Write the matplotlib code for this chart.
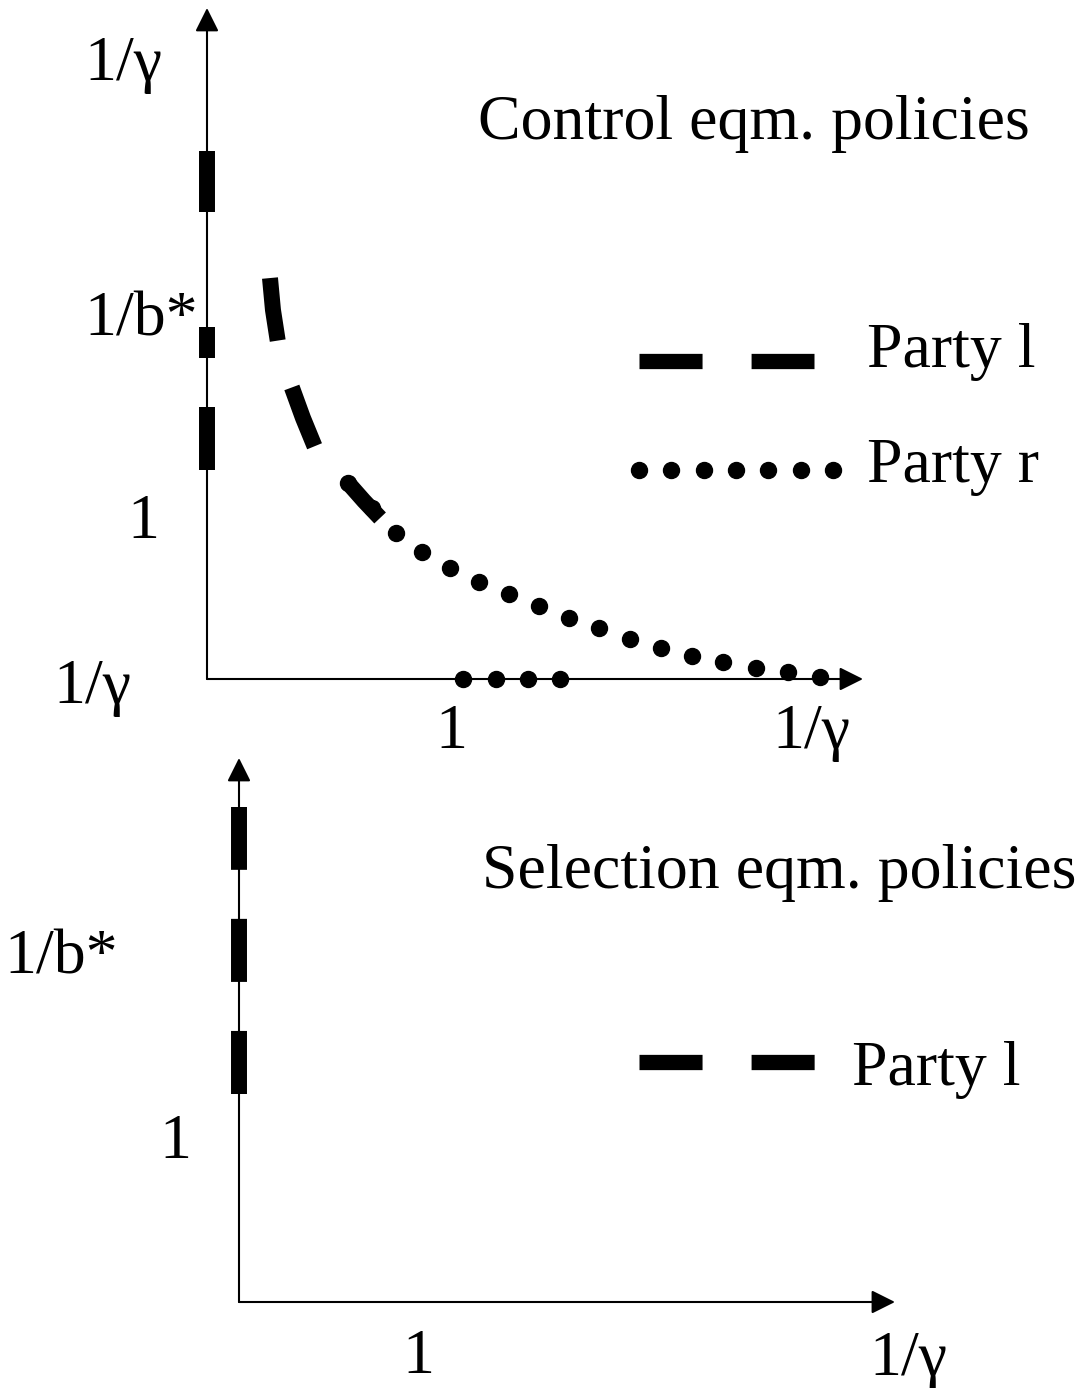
import matplotlib
matplotlib.use('Agg')
import matplotlib.pyplot as plt
from matplotlib.patches import FancyArrowPatch

plt.rcParams['font.family'] = ['Liberation Serif', 'DejaVu Serif']
plt.rcParams['lines.scale_dashes'] = False

W, H, DPI = 1080, 1388, 100
FS = 46

# Party l curve in the control panel (x in units of 1, y in units of 1)
party_l_x = [0.254, 0.266, 0.286, 0.310, 0.343, 0.387, 0.435, 0.500, 0.569, 0.633, 0.698]
party_l_y = [2.475, 2.278, 2.080, 1.932, 1.796, 1.611, 1.432, 1.315, 1.210, 1.099, 0.994]

# Party l pieces sitting on the vertical axis (control panel)
party_l_axis_top = [(1.29, 1.68), (1.98, 2.17), (2.88, 3.26)]

# Party r curve and the piece lying on the horizontal axis
party_r_x = [0.569, 0.665, 0.762, 0.867, 0.980, 1.097, 1.218, 1.339, 1.460,
             1.581, 1.706, 1.831, 1.956, 2.081, 2.214, 2.343, 2.472]
party_r_y = [1.210, 1.056, 0.901, 0.784, 0.685, 0.599, 0.525, 0.451, 0.377,
             0.315, 0.247, 0.191, 0.142, 0.105, 0.068, 0.043, 0.012]
party_r_axis_x = [1.032, 1.165, 1.294, 1.423]

# Party l on the vertical axis (selection panel)
party_l_axis_bottom = (1.268, 3.018)

DASH = (0, (45.4, 35.3))
LW_THICK = 11.5
DOT = 11.5

fig = plt.figure(figsize=(W / DPI, H / DPI), dpi=DPI)


def panel(ox, oy, ux, uy):
    # full-figure axes, origin at pixel (ox, oy), ux/uy pixels per unit
    ax = fig.add_axes([0, 0, 1, 1])
    ax.set_xlim(-ox / ux, (W - ox) / ux)
    ax.set_ylim((oy - H) / uy, oy / uy)
    ax.axis('off')
    ax.patch.set_alpha(0)
    return ax


def arrow(ax, x0, y0, x1, y1):
    ax.add_patch(FancyArrowPatch((x0, y0), (x1, y1),
                                 arrowstyle='-|>,head_length=14.4,head_width=7.2',
                                 mutation_scale=1, lw=1.5, color='black',
                                 shrinkA=0, shrinkB=0))


# ---- control equilibrium panel ----
ax1 = panel(207, 679, 248, 162)
arrow(ax1, 0, 0, 0, 4.142)
arrow(ax1, 0, 0, 2.645, 0)

for y0, y1 in party_l_axis_top:
    ax1.plot([0, 0], [y0, y1], color='black', lw=LW_THICK, solid_capstyle='butt')
ax1.plot(party_l_x, party_l_y, color='black', lw=LW_THICK, linestyle=DASH,
         dash_capstyle='butt')
ax1.plot(party_r_x, party_r_y, 'o', color='black', markersize=DOT)
ax1.plot(party_r_axis_x, [0] * len(party_r_axis_x), 'o', color='black', markersize=DOT)

ax1.text(-0.337, 3.698, '1/γ', fontsize=FS, ha='center', va='baseline')
ax1.text(-0.264, 2.123, '1/b*', fontsize=FS, ha='center', va='baseline')
ax1.text(-0.258, 0.870, '1', fontsize=FS, ha='center', va='baseline')
ax1.text(-0.462, -0.148, '1/γ', fontsize=FS, ha='center', va='baseline')
ax1.text(0.984, -0.426, '1', fontsize=FS, ha='center', va='baseline')
ax1.text(2.437, -0.426, '1/γ', fontsize=FS, ha='center', va='baseline')
ax1.text(1.093, 3.333, 'Control eqm. policies', fontsize=FS, ha='left', va='baseline')

# legend
ax1.plot([1.742, 2.448], [1.963, 1.963], color='black', lw=11, linestyle=DASH,
         dash_capstyle='butt')
ax1.text(2.661, 1.926, 'Party l', fontsize=FS, ha='left', va='baseline')
ax1.plot([1.742, 1.871, 2.004, 2.133, 2.262, 2.395, 2.524], [1.290] * 7, 'o',
         color='black', markersize=DOT)
ax1.text(2.661, 1.216, 'Party r', fontsize=FS, ha='left', va='baseline')

# ---- selection equilibrium panel ----
ax2 = panel(239, 1302, 181, 164)
arrow(ax2, 0, 0, 0, 3.317)
arrow(ax2, 0, 0, 3.624, 0)

ax2.plot([0, 0], list(party_l_axis_bottom), color='black', lw=LW_THICK,
         linestyle=DASH, dash_capstyle='butt')

ax2.text(-0.983, 2.006, '1/b*', fontsize=FS, ha='center', va='baseline')
ax2.text(-0.354, 0.878, '1', fontsize=FS, ha='center', va='baseline')
ax2.text(0.992, -0.433, '1', fontsize=FS, ha='center', va='baseline')
ax2.text(3.699, -0.445, '1/γ', fontsize=FS, ha='center', va='baseline')
ax2.text(1.343, 2.524, 'Selection eqm. policies', fontsize=FS, ha='left', va='baseline')

ax2.plot([2.210, 3.182], [1.463, 1.463], color='black', lw=11, linestyle=DASH,
         dash_capstyle='butt')
ax2.text(3.387, 1.323, 'Party l', fontsize=FS, ha='left', va='baseline')

fig.savefig('out.png', dpi=DPI, facecolor='white')
